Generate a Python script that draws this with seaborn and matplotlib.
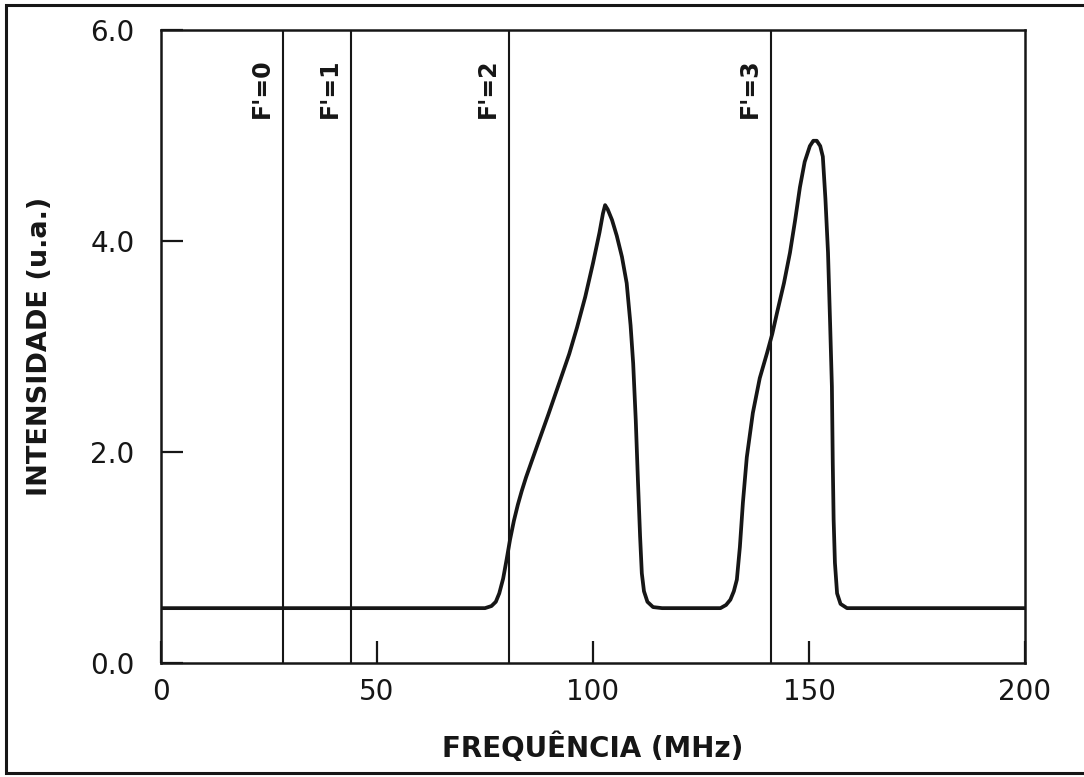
import matplotlib
matplotlib.use("Agg")
import matplotlib.pyplot as plt
import seaborn as sns
import pandas as pd
from matplotlib.lines import Line2D

# ---- data ----
freq = [0, 20, 40, 60, 75.0, 76.5, 77.5, 78.3, 79.2, 80.0, 80.8, 81.7, 82.6, 83.5, 84.5,
        85.7, 87.0, 89.7, 92.4, 94.5, 96.3, 98.2, 100.0, 101.5, 102.3, 102.8, 103.4,
        104.4, 105.5, 106.7, 107.8, 108.7, 109.3, 109.9, 110.4, 110.9, 111.3, 111.8,
        112.6, 113.9, 116.0, 122.0, 129.5, 130.8, 131.8, 132.6, 133.3, 134.0, 134.7,
        135.6, 137.0, 138.6, 140.3, 141.5, 142.6, 144.2, 145.6, 146.8, 147.9, 149.0,
        150.2, 151.0, 151.8, 152.6, 153.2, 153.8, 154.4, 154.9, 155.3, 155.5, 155.7,
        156.0, 156.5, 157.3, 158.8, 170, 185, 200]
intensity = [0.52, 0.52, 0.52, 0.52, 0.52, 0.54, 0.58, 0.66, 0.80, 0.98, 1.17, 1.35, 1.50,
             1.63, 1.76, 1.90, 2.05, 2.36, 2.68, 2.93, 3.18, 3.47, 3.79, 4.08, 4.26, 4.34,
             4.30, 4.20, 4.05, 3.85, 3.60, 3.20, 2.84, 2.30, 1.73, 1.20, 0.85, 0.68, 0.58,
             0.53, 0.52, 0.52, 0.52, 0.55, 0.60, 0.68, 0.79, 1.10, 1.52, 1.95, 2.37, 2.70,
             2.94, 3.12, 3.32, 3.60, 3.89, 4.20, 4.51, 4.75, 4.90, 4.95, 4.95, 4.90, 4.80,
             4.40, 3.89, 3.20, 2.62, 1.90, 1.36, 0.95, 0.66, 0.56, 0.52, 0.52, 0.52, 0.52]

level_freqs = [28.2, 44.0, 80.6, 141.3]
level_labels = ["F'=0", "F'=1", "F'=2", "F'=3"]

x_ticks = [0, 50, 100, 150, 200]
x_tick_labels = ["0", "50", "100", "150", "200"]
y_ticks = [0.0, 2.0, 4.0, 6.0]
y_tick_labels = ["0.0", "2.0", "4.0", "6.0"]

xlabel = "FREQUÊNCIA (MHz)"
ylabel = "INTENSIDADE (u.a.)"

# ---- plotting ----
sns.set_style("white")
plt.rcParams['font.family'] = ['DejaVu Sans']
ink = "#161616"

fig = plt.figure(figsize=(10.84, 7.77), dpi=100)
ax = fig.add_axes([161 / 1084, 1 - 663 / 777, (1025 - 161) / 1084, (663 - 30) / 777])

df = pd.DataFrame({"freq": freq, "intensity": intensity})
sns.lineplot(data=df, x="freq", y="intensity", ax=ax, color=ink, linewidth=2.7,
             sort=False, solid_joinstyle="round", solid_capstyle="round")

for f, lab in zip(level_freqs, level_labels):
    ax.axvline(f, color=ink, linewidth=1.5)
    ax.text(f - 4.9, 5.45, lab, rotation=90, ha="center", va="center",
            fontsize=17, color=ink, fontweight="bold")

ax.set_xlim(0, 200)
ax.set_ylim(0, 6)
ax.set_xticks(x_ticks)
ax.set_xticklabels(x_tick_labels)
ax.set_yticks(y_ticks)
ax.set_yticklabels(y_tick_labels)
ax.tick_params(axis="both", which="major", bottom=True, left=True, top=False, right=False,
               direction="in", length=16, width=1.6, color=ink,
               labelsize=20, labelcolor=ink)
ax.tick_params(axis="x", pad=11)
ax.tick_params(axis="y", pad=19)
for lbl in ax.get_xticklabels() + ax.get_yticklabels():
    lbl.set_fontweight("medium")

for s in ax.spines.values():
    s.set_visible(True)
    s.set_color(ink)
    s.set_linewidth(1.8)

ax.set_xlabel(xlabel, fontsize=20, fontweight="bold", color=ink)
ax.set_ylabel(ylabel, fontsize=19.5, fontweight="bold", color=ink)
ax.xaxis.set_label_coords(0.5, (663 - 748) / 633)
ax.xaxis.label.set_va("center")
ax.yaxis.set_label_coords((40 - 161) / 864, 0.5)
ax.yaxis.label.set_va("center")

# outer frame of the scanned figure (right side cut off)
xl, yt, yb = 6 / 1084, 1 - 5 / 777, 1 - 773 / 777
fig.add_artist(Line2D([1.0, xl, xl, 1.0], [yt, yt, yb, yb], transform=fig.transFigure,
                      color=ink, linewidth=2.2, solid_joinstyle="miter"))

fig.savefig("out.png", dpi=100, facecolor="white")
